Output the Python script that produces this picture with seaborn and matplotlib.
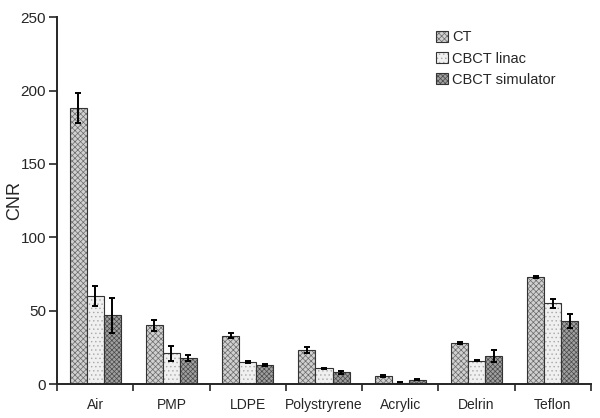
import numpy as np
import pandas as pd
import matplotlib
matplotlib.use("Agg")
import matplotlib.pyplot as plt
import seaborn as sns

# Data
materials = ["Air", "PMP", "LDPE", "Polystryrene", "Acrylic", "Delrin", "Teflon"]
modalities = ["CT", "CBCT linac", "CBCT simulator"]
cnr_ct = [188, 40, 33, 23, 5.5, 28, 73]
cnr_linac = [60, 21, 15, 10.7, 1, 16, 55]
cnr_sim = [47, 18, 13, 8, 3, 19, 43]
err_ct = [10, 4, 1.5, 2, 0.5, 0.5, 1]
err_linac = [7, 5, 0.5, 0.5, 0.3, 0.5, 3]
err_sim = [12, 2, 0.5, 1, 0.5, 4, 5]

sns.set_style("ticks")
plt.rcParams['font.family'] = ['Liberation Sans', 'DejaVu Sans']
plt.rcParams['hatch.linewidth'] = 0.5

df = pd.DataFrame({
    "Material": materials * 3,
    "Modality": [m for m in modalities for _ in materials],
    "CNR": cnr_ct + cnr_linac + cnr_sim,
})
errors = [err_ct, err_linac, err_sim]

fig = plt.figure(figsize=(6, 4.18), dpi=100)
ax = fig.add_axes([0.095, 0.081, 0.89, 0.878])

face = ["#d0d0d0", "#f0f0f0", "#a0a0a0"]
hatches = ["xxxxxx", "....", "xxxxxxx"]
hatch_col = ["#6a6a6a", "#a8a8a8", "#4a4a4a"]

sns.barplot(data=df, x="Material", y="CNR", hue="Modality", order=materials,
            hue_order=modalities, palette=face, width=0.67, errorbar=None,
            edgecolor="#333333", linewidth=0.8, ax=ax)

for cont, h, hc, errs in zip(ax.containers, hatches, hatch_col, errors):
    xs, ys = [], []
    for bar in cont:
        bar.set_hatch(h)
        bar._hatch_color = matplotlib.colors.to_rgba(hc)
        xs.append(bar.get_x() + bar.get_width() / 2)
        ys.append(bar.get_height())
    ax.errorbar(xs, ys, yerr=errs, fmt="none", ecolor="black",
                elinewidth=1.4, capsize=2.5, capthick=1.4)

ax.set_ylim(0, 250)
ax.set_xlim(-0.5, 6.5)
ax.set_yticks(range(0, 251, 50))
ax.set_xticks(np.arange(-0.5, 7, 1))
ax.set_xticklabels([])
ax.set_xticks(range(len(materials)), minor=True)
ax.set_xticklabels(materials, minor=True)
ax.tick_params(axis="x", which="minor", length=0, pad=10, labelsize=10)
ax.tick_params(axis="x", which="major", length=5, width=1.2, direction="out")
ax.tick_params(axis="y", length=6, width=1.2, labelsize=11, pad=2)
ax.set_xlabel("")
ax.set_ylabel("CNR", fontsize=13)
ax.yaxis.set_label_coords(-0.064, 0.5)
sns.despine(ax=ax)
for s in ["left", "bottom"]:
    ax.spines[s].set_linewidth(1.4)

leg = ax.legend(loc="upper left", bbox_to_anchor=(0.685, 1.0), frameon=False,
                fontsize=10.5, handlelength=0.8, handleheight=0.8,
                handletextpad=0.3, labelspacing=0.5)
for lh, h, hc in zip(leg.legend_handles, hatches, hatch_col):
    lh.set_hatch(h)
    lh._hatch_color = matplotlib.colors.to_rgba(hc)

fig.savefig("out.png", dpi=100)
